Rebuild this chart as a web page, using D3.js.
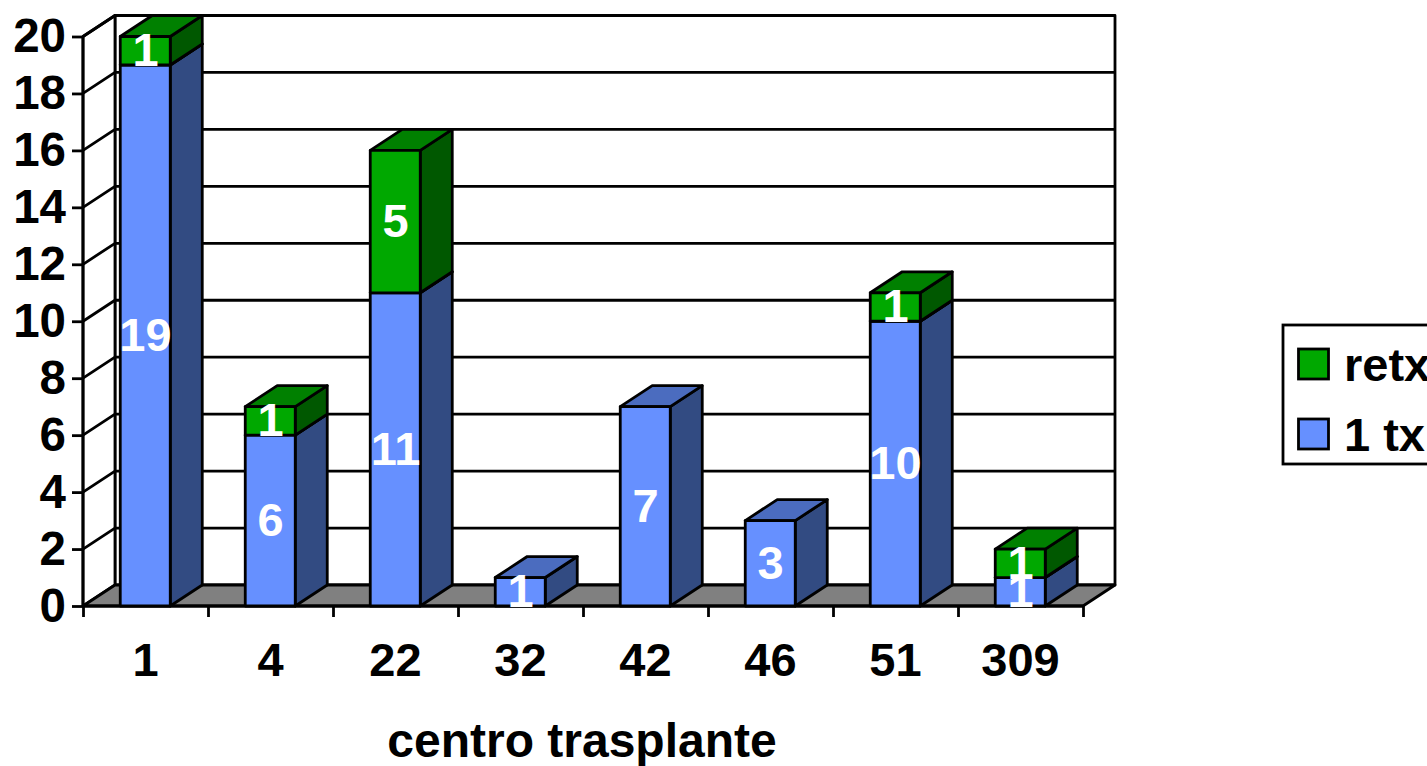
<!DOCTYPE html>
<html><head><meta charset="utf-8">
<script src="https://cdn.jsdelivr.net/npm/d3@7/dist/d3.min.js"></script>
<style>html,body{margin:0;padding:0;background:#fff;overflow:hidden}svg{display:block}text{font-family:"Liberation Sans",Arial,sans-serif;font-weight:700}</style>
</head><body><svg id="c" width="1427" height="766"></svg>
<script>
const categories=["1","4","22","32","42","46","51","309"];
const firstTx=[19,6,11,1,7,3,10,1];
const retx=[1,1,5,0,0,0,1,1];
const yTicks=[0,2,4,6,8,10,12,14,16,18,20];
const seriesNames=["retx","1 tx"];
const xTitle="centro trasplante";

const svg=d3.select("#c");
const DX=32,DY=-21,LW=2.8;
const x=d3.scaleBand().domain(categories).range([83,1083]);
const y=d3.scaleLinear().domain([0,20]).range([606,36.5]);
const barW=50;
const P=a=>a.map(p=>p.join(",")).join(" ");
const blk="#000";
const poly=(g,pts,fill)=>g.append("polygon").attr("points",P(pts)).attr("fill",fill).attr("stroke",blk).attr("stroke-width",LW).attr("stroke-linejoin","round");

const bg=svg.append("g");
poly(bg,[[83+DX,y(20)+DY],[1083+DX,y(20)+DY],[1083+DX,y(0)+DY],[83+DX,y(0)+DY]],"#fff");
poly(bg,[[83,y(0)],[83,y(20)],[83+DX,y(20)+DY],[83+DX,y(0)+DY]],"#fff");
poly(bg,[[83,y(0)],[83+DX,y(0)+DY],[1083+DX,y(0)+DY],[1083,y(0)]],"#808080");
yTicks.filter(d=>d>0).forEach(d=>{
  bg.append("path").attr("d",`M83,${y(d)}L${83+DX},${y(d)+DY}L${1083+DX},${y(d)+DY}`).attr("fill","none").attr("stroke",blk).attr("stroke-width",LW);
});
const yAxis=svg.append("g").attr("transform","translate(83,0)").call(d3.axisLeft(y).tickValues(yTicks).tickSize(11).tickPadding(6).tickFormat(d3.format("d")));
yAxis.selectAll("line").attr("stroke",blk).attr("stroke-width",LW);
yAxis.select(".domain").attr("stroke",blk).attr("stroke-width",LW).attr("d","M0,36.5V606");
yAxis.selectAll("text").attr("font-size",47.5).attr("fill",blk);

const xEdge=d3.axisBottom(d3.scaleLinear().domain([0,categories.length]).range([83,1083])).ticks(categories.length).tickSize(11).tickFormat("");
const xa=svg.append("g").attr("transform","translate(0,606)").call(xEdge);
xa.selectAll("line").attr("stroke",blk).attr("stroke-width",LW);
xa.select(".domain").attr("stroke",blk).attr("stroke-width",LW).attr("d","M83,0H1083");

svg.append("g").selectAll("text").data(categories).join("text")
  .attr("x",d=>x(d)+x.bandwidth()/2).attr("y",676).attr("text-anchor","middle").attr("font-size",47).attr("fill",blk).text(d=>d);
svg.append("text").attr("x",582).attr("y",757).attr("text-anchor","middle").attr("font-size",48).attr("fill",blk).text(xTitle);

const colors={front:"#6690ff",side:"#324b82",top:"#4b6cbf"};
const colors2={front:"#00a800",side:"#005800",top:"#008000"};
const bars=svg.append("g"),labels=svg.append("g");
function seg(xl,v0,v1,c){
  const a=y(v0),b=y(v1),xr=xl+barW;
  poly(bars,[[xr,a],[xr+DX,a+DY],[xr+DX,b+DY],[xr,b]],c.side);
  poly(bars,[[xl,b],[xr,b],[xr+DX,b+DY],[xl+DX,b+DY]],c.top);
  poly(bars,[[xl,a],[xr,a],[xr,b],[xl,b]],c.front);
}
function lab(cx,v0,v1,t){
  labels.append("text").attr("x",cx).attr("y",(y(v0)+y(v1))/2-1).attr("dy","0.35em").attr("text-anchor","middle").attr("font-size",47).attr("fill","#fff").text(t);
}
categories.forEach((c,i)=>{
  const cx=x(c)+x.bandwidth()/2, xl=cx-barW/2-0.25;
  seg(xl,0,firstTx[i],colors);
  if(retx[i]>0) seg(xl,firstTx[i],firstTx[i]+retx[i],colors2);
  lab(cx,0,firstTx[i],firstTx[i]);
  if(retx[i]>0) lab(cx,firstTx[i],firstTx[i]+retx[i],retx[i]);
});

const lg=svg.append("g");
lg.append("rect").attr("x",1283).attr("y",325).attr("width",170).attr("height",139).attr("fill","#fff").attr("stroke",blk).attr("stroke-width",LW);
const legendColors=[colors2.front,colors.front];
seriesNames.forEach((n,i)=>{
  lg.append("rect").attr("x",1298.5).attr("y",349+70*i).attr("width",30).attr("height",30).attr("fill",legendColors[i]).attr("stroke",blk).attr("stroke-width",LW);
  lg.append("text").attr("x",1344).attr("y",381+70*i).attr("font-size",47).attr("fill",blk).text(n);
});
</script></body></html>
